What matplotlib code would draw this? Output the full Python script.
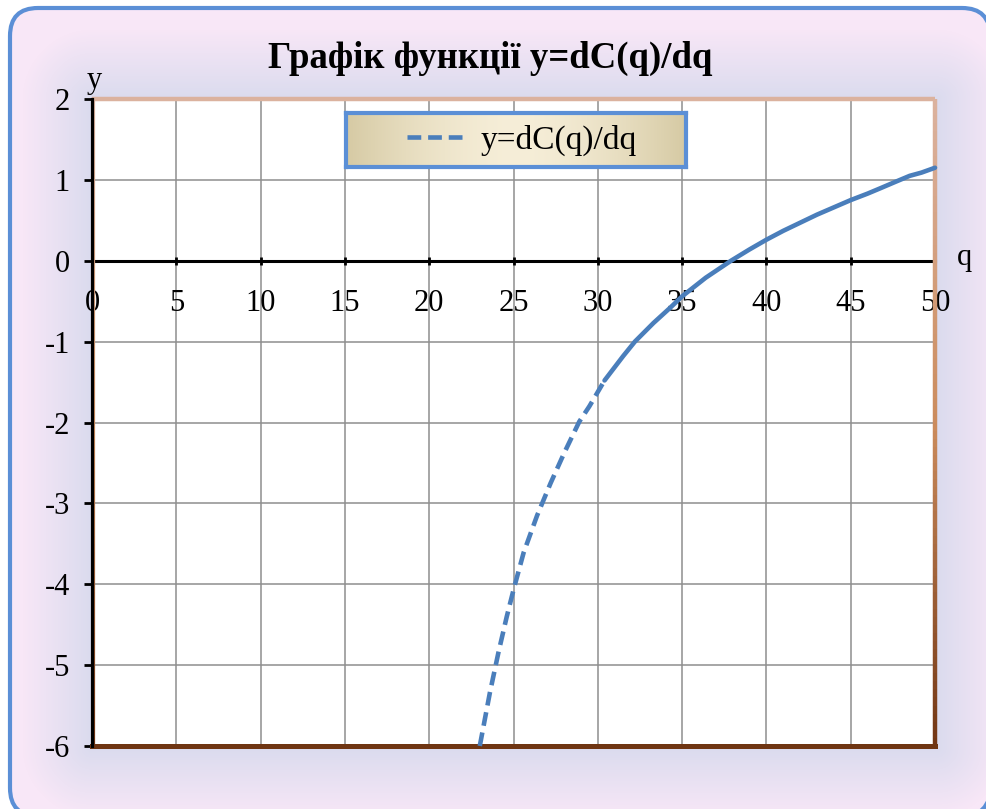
import numpy as np
import matplotlib
matplotlib.use("Agg")
import matplotlib.pyplot as plt
from matplotlib.patches import FancyBboxPatch
from matplotlib.collections import LineCollection
from matplotlib.transforms import IdentityTransform
from matplotlib.lines import Line2D

# ---- data ----
q_vals = [23.0, 23.6, 24.1, 24.6, 25.0, 25.6, 26.4, 27.2, 28.0, 28.9, 29.5, 30.4,
          31.5, 32.2, 33.3, 34.3, 35.0, 36.4, 37.9, 39.0, 40.0, 41.0, 42.0,
          43.0, 44.0, 45.0, 46.0, 46.8, 47.7, 48.5, 49.2, 50.0]
y_vals = [-6.0, -5.34, -4.85, -4.40, -4.07, -3.61, -3.15, -2.75, -2.38, -1.99, -1.80, -1.48,
          -1.18, -1.0, -0.77, -0.58, -0.44, -0.21, 0.0, 0.14, 0.26, 0.37, 0.47,
          0.57, 0.66, 0.75, 0.83, 0.90, 0.98, 1.05, 1.09, 1.15]
x_ticks = list(range(0, 51, 5))
y_ticks = list(range(-6, 3))
title = "Графік функції y=dC(q)/dq"
label = "y=dC(q)/dq"

W, H = 986, 809
plt.rcParams['font.family'] = ['Liberation Serif', 'DejaVu Serif']
plt.rcParams['axes.unicode_minus'] = False

fig = plt.figure(figsize=(W / 100, H / 100), dpi=100)
fig.patch.set_facecolor('white')

# plot area in pixels
L, R, T, B = 92, 935, 99, 746

# ---- background (rounded box with gradient) ----
ax_bg = fig.add_axes([0, 0, 1, 1], zorder=-5)
ax_bg.axis('off')
yy, xx = np.mgrid[0:H, 0:W]
dx = np.maximum(np.maximum(L - xx, xx - R), 0)
dy = np.maximum(np.maximum(T - yy, yy - B), 0)
t = np.clip(np.sqrt(dx ** 2 + dy ** 2) / 70.0, 0, 1)[..., None]
inner = np.array([218, 219, 238]) / 255
outer = np.array([248, 231, 247]) / 255
img = inner * (1 - t) + outer * t
im = ax_bg.imshow(img, extent=[0, W, 0, H], origin='upper', aspect='auto')
bx0, by0, bw, bh = 10, -7, 980, 808
box = FancyBboxPatch((bx0, by0), bw, bh, boxstyle="round,pad=0,rounding_size=28",
                     transform=IdentityTransform(), facecolor='none', edgecolor='none')
ax_bg.add_patch(box)
im.set_clip_path(box)
# border drawn as a flattened polyline (curves running off the canvas clip badly)
verts = box.get_path().to_polygons(closed_only=False)[0]
ax_bg.add_line(Line2D(verts[:, 0], verts[:, 1], transform=IdentityTransform(),
                      color='#5B8FD6', lw=3, solid_joinstyle='round'))
ax_bg.set_xlim(0, W)
ax_bg.set_ylim(0, H)

# ---- main axes ----
ax = fig.add_axes([L / W, 1 - B / H, (R - L) / W, (B - T) / H])
ax.set_facecolor('white')
ax.set_xlim(0, 50)
ax.set_ylim(-6, 2)
ax.set_xticks(x_ticks)
ax.set_yticks(y_ticks)
ax.grid(True, color='#8e8e8e', lw=1.1)

for s in ['top', 'right']:
    ax.spines[s].set_visible(False)
ax.spines['left'].set_color('black')
ax.spines['left'].set_linewidth(2.3)
ax.spines['left'].set_zorder(6)
ax.spines['bottom'].set_position(('data', 0))
ax.spines['bottom'].set_color('black')
ax.spines['bottom'].set_linewidth(2.2)

ax.tick_params(axis='x', direction='inout', length=6, width=2, pad=17, labelsize=22)
ax.tick_params(axis='y', direction='out', length=6, width=2, pad=10, labelsize=22)

# plot area frame: tan top, brownish gradient on the sides, dark brown bottom
ax.plot([0, 50], [2, 2], color='#DBB29E', lw=3.2, clip_on=False, zorder=3,
        solid_capstyle='butt')
ys = np.linspace(2, -6, 81)
cols = [np.array([219, 178, 158]) / 255, np.array([203, 139, 92]) / 255,
        np.array([112, 52, 18]) / 255]
seg_cols = []
for v in ys[:-1]:
    f = (2 - v) / 8
    if f < 0.5:
        c = cols[0] * (1 - f / 0.5) + cols[1] * (f / 0.5)
    else:
        c = cols[1] * (1 - (f - 0.5) / 0.5) + cols[2] * ((f - 0.5) / 0.5)
    seg_cols.append(c)
for xpos, lw in [(50, 3.2), (0.12, 1.6)]:
    segs = [[(xpos, ys[i]), (xpos, ys[i + 1])] for i in range(len(ys) - 1)]
    lc = LineCollection(segs, colors=seg_cols, lw=lw, clip_on=False, zorder=3)
    ax.add_collection(lc)
ax.plot([0, 50], [-6, -6], color='#6F3512', lw=3.6, clip_on=False, zorder=3,
        solid_capstyle='projecting')

# ---- the curve: dashed where points are sparse, solid where dense ----
q = np.array(q_vals)
y = np.array(y_vals)
split = 11
ax.plot(q[:split + 1], y[:split + 1], color='#4A7EBB', lw=3.3, dashes=(3.0, 1.5),
        zorder=4, clip_on=False)
ax.plot(q[split:], y[split:], color='#4A7EBB', lw=3.3, zorder=4, clip_on=False,
        solid_capstyle='round', solid_joinstyle='round')

# ---- texts ----
fig.text(490 / W, 1 - 68 / H, title, ha='center', va='baseline', fontsize=26.5,
         fontweight='bold')
fig.text(87 / W, 1 - 88 / H, 'y', ha='left', va='baseline', fontsize=22)
fig.text(957 / W, 1 - 265 / H, 'q', ha='left', va='baseline', fontsize=22)

# ---- legend box ----
lx0, ly0, lx1, ly1 = 346, 113, 686, 167
ax_leg = fig.add_axes([lx0 / W, 1 - ly1 / H, (lx1 - lx0) / W, (ly1 - ly0) / H], zorder=3)
gx = np.linspace(-1, 1, 200)
tt = np.abs(gx) ** 1.6
cream = np.array([246, 238, 216]) / 255
tan = np.array([214, 202, 164]) / 255
grad = (cream * (1 - tt[:, None]) + tan * tt[:, None])[None, :, :]
ax_leg.imshow(grad, aspect='auto', extent=[0, 1, 0, 1])
ax_leg.set_xticks([])
ax_leg.set_yticks([])
for s in ax_leg.spines.values():
    s.set_color('#5B8FD6')
    s.set_linewidth(3)

handle = Line2D([], [], color='#4A7EBB', lw=3.3, dashes=(3.0, 1.5))
leg = fig.legend([handle], [label], loc='center',
                 bbox_to_anchor=((lx0 + lx1) / 2 / W + 0.006, 1 - (ly0 + ly1) / 2 / H),
                 frameon=False, fontsize=24, handlelength=1.75, handletextpad=0.45)
leg.set_zorder(10)

fig.savefig('out.png', dpi=100)
